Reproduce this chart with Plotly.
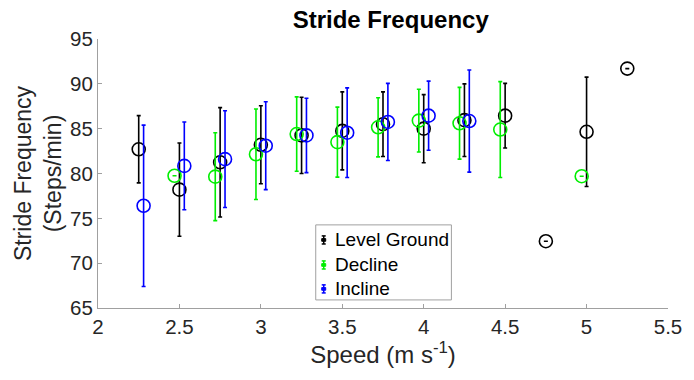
import plotly.graph_objects as go

# Mean stride frequency (steps/min) and standard deviation by speed (m/s)
level_speed = [2.25, 2.5, 2.75, 3.0, 3.25, 3.5, 3.75, 4.0, 4.25, 4.5, 4.75, 5.0, 5.25]
level_freq = [82.7, 78.2, 81.25, 83.2, 84.25, 84.75, 85.5, 85.0, 85.95, 86.45, 72.45, 84.65, 91.7]
level_sd = [3.75, 5.2, 6.1, 4.35, 4.25, 4.35, 3.6, 3.8, 4.05, 3.6, 0.0, 6.1, 0.0]

decline_speed = [2.5, 2.75, 3.0, 3.25, 3.5, 3.75, 4.0, 4.25, 4.5, 5.0]
decline_freq = [79.75, 79.65, 82.15, 84.4, 83.5, 85.15, 85.9, 85.6, 84.9, 79.7]
decline_sd = [0.0, 4.9, 5.05, 4.15, 3.9, 3.3, 3.5, 4.0, 5.35, 0.0]

incline_speed = [2.25, 2.5, 2.75, 3.0, 3.25, 3.5, 3.75, 4.0, 4.25]
incline_freq = [76.4, 80.85, 81.6, 83.1, 84.25, 84.55, 85.75, 86.45, 85.85]
incline_sd = [9.0, 4.9, 5.4, 4.9, 4.15, 5.0, 4.3, 3.85, 5.7]

# Horizontal dodge so the three conditions don't overlap at each speed
DODGE = {"Level Ground": 0.0, "Decline": -0.03, "Incline": 0.03}

series = [
    ("Level Ground", level_speed, level_freq, level_sd, "#000000"),
    ("Decline", decline_speed, decline_freq, decline_sd, "#00ee00"),
    ("Incline", incline_speed, incline_freq, incline_sd, "#0000ff"),
]

FONT = "Liberation Sans, Arial, Helvetica, sans-serif"
AXIS_GRAY = "#a0a0a0"

fig = go.Figure()
for name, xs, ys, sd, color in series:
    fig.add_trace(go.Scatter(
        x=[v + DODGE[name] for v in xs],
        y=ys,
        mode="markers",
        name=name,
        showlegend=False,
        marker=dict(symbol="circle-open", size=13, color=color,
                    line=dict(width=1.6, color=color)),
        error_y=dict(type="data", array=sd, visible=True,
                     color=color, thickness=1.6, width=2),
    ))

# Boxed legend with small error-bar glyphs (paper coordinates of the plot area)
LEG_X0, LEG_X1 = 0.382, 0.620
LEG_Y0, LEG_Y1 = 0.030, 0.309
ICON_X, TEXT_X = 0.396, 0.413
ROW_Y = [0.253, 0.160, 0.071]
ICON_HALF = 0.015   # half height of the glyph
CAP_HALF = 0.0035   # half width of the glyph caps

shapes = [dict(type="rect", xref="paper", yref="paper",
               x0=LEG_X0, x1=LEG_X1, y0=LEG_Y0, y1=LEG_Y1,
               line=dict(color=AXIS_GRAY, width=1), fillcolor="white",
               layer="above")]
annotations = []
for (name, _, _, _, color), ry in zip(series, ROW_Y):
    lw = 1.5
    shapes.append(dict(type="line", xref="paper", yref="paper",
                       x0=ICON_X, x1=ICON_X, y0=ry - ICON_HALF, y1=ry + ICON_HALF,
                       line=dict(color=color, width=lw)))
    for cy in (ry - ICON_HALF, ry + ICON_HALF):
        shapes.append(dict(type="line", xref="paper", yref="paper",
                           x0=ICON_X - CAP_HALF, x1=ICON_X + CAP_HALF, y0=cy, y1=cy,
                           line=dict(color=color, width=lw)))
    shapes.append(dict(type="rect", xref="paper", yref="paper",
                       x0=ICON_X - CAP_HALF, x1=ICON_X + CAP_HALF,
                       y0=ry - 0.005, y1=ry + 0.005,
                       line=dict(color=color, width=1), fillcolor=color))
    annotations.append(dict(text=name, xref="paper", yref="paper",
                            x=TEXT_X, y=ry, xanchor="left", yanchor="middle",
                            showarrow=False,
                            font=dict(family=FONT, size=19, color="#000000")))

fig.update_layout(
    width=694, height=380,
    margin=dict(l=98, r=17, t=39, b=72),
    paper_bgcolor="white",
    plot_bgcolor="white",
    font=dict(family=FONT, size=20, color="#262626"),
    showlegend=False,
    title=dict(text="<b>Stride Frequency</b>", x=0.563, xanchor="center",
               y=0.948, yanchor="middle",
               font=dict(family=FONT, size=24, color="#000000")),
    shapes=shapes,
    annotations=annotations,
)

fig.update_xaxes(
    range=[2, 5.5], tickmode="linear", tick0=2, dtick=0.5,
    showline=True, linecolor=AXIS_GRAY, linewidth=1,
    ticks="inside", ticklen=4, tickcolor=AXIS_GRAY,
    showgrid=False, zeroline=False,
    tickfont=dict(size=20.5, color="#262626"),
    title=dict(text="Speed (m s<sup>-1</sup>)", standoff=6,
               font=dict(size=24, color="#262626")),
)
fig.update_yaxes(
    range=[65, 95], tickmode="linear", tick0=65, dtick=5,
    showline=True, linecolor=AXIS_GRAY, linewidth=1,
    ticks="inside", ticklen=4, tickcolor=AXIS_GRAY,
    showgrid=False, zeroline=False,
    tickfont=dict(size=20.5, color="#262626"),
    title=dict(text="Stride Frequency<br>(Steps/min)", standoff=2,
               font=dict(size=23, color="#262626")),
)

fig.write_html("out.html")
